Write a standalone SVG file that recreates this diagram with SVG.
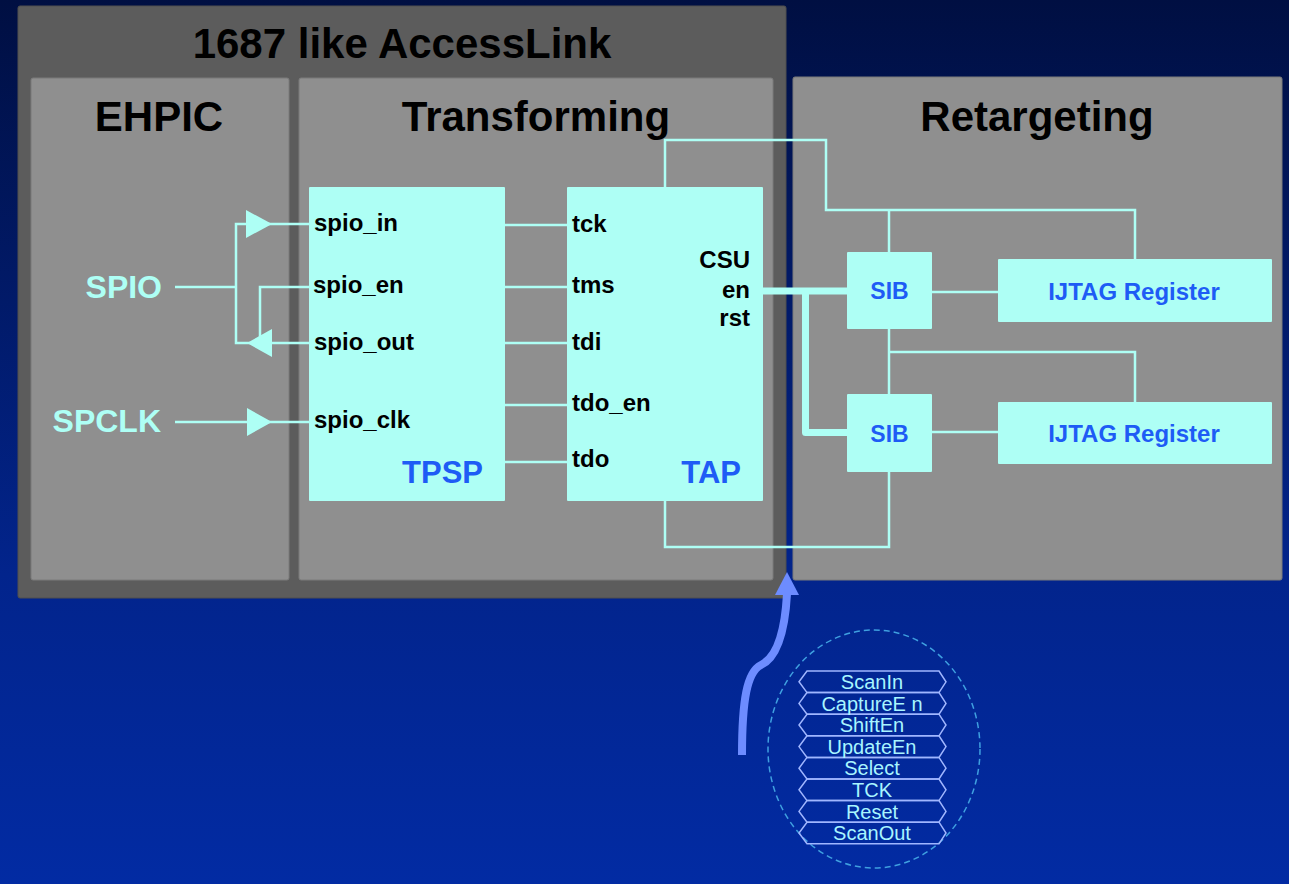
<svg xmlns="http://www.w3.org/2000/svg" width="1289" height="884" viewBox="0 0 1289 884">
<defs>
<linearGradient id="bg" x1="0" y1="0" x2="0" y2="1">
<stop offset="0" stop-color="#000f42"/>
<stop offset="0.65" stop-color="#02248c"/>
<stop offset="1" stop-color="#022ba3"/>
</linearGradient>
<style>
.panel{fill:#8f8f8f;stroke:#7a7a7a;stroke-width:1}
.box{fill:#aefff5}
.w{fill:none;stroke:#aefff5;stroke-width:2.5}
.bus{fill:none;stroke:#aefff5;stroke-width:7;stroke-linejoin:round}
.ah{fill:#aefff5}
.t{font-family:"Liberation Sans",Arial,sans-serif;font-weight:bold;fill:#000}
.h{font-size:42px;text-anchor:middle}
.p{font-size:24px}
.b{fill:#1e5cf5}
.c{fill:#aefff5}
.hex{fill:none;stroke:#a0b6ff;stroke-width:1.5}
.ht{font-family:"Liberation Sans",Arial,sans-serif;font-size:20px;fill:#a8f5ff;text-anchor:middle}
</style>
</defs>
<rect x="0" y="0" width="1289" height="884" fill="url(#bg)"/>

<g id="outer-accesslink">
<rect x="18" y="6" width="768" height="592" rx="2" fill="#5c5c5c" stroke="#4e4e4e" stroke-width="1"/>
<text class="t h" x="402" y="58">1687 like AccessLink</text>
</g>
<g id="panel-ehpic">
<rect class="panel" x="31" y="78" width="258" height="502" rx="2"/>
<text class="t h" x="159" y="131">EHPIC</text>
</g>
<g id="panel-transforming">
<rect class="panel" x="299" y="78" width="474" height="502" rx="2"/>
<text class="t h" x="536" y="131">Transforming</text>
</g>
<g id="panel-retargeting">
<rect class="panel" x="793" y="77" width="489" height="503" rx="2"/>
<text class="t h" x="1037" y="131">Retargeting</text>
</g>

<g id="connectors">
<polyline class="w" points="175,287 236,287"/>
<polyline class="w" points="309,224 236,224 236,343 309,343"/>
<polyline class="w" points="309,287 260,287 260,340"/>
<polyline class="w" points="175,422 309,422"/>
<polygon class="ah" points="246,210 272,224 246,238"/>
<polygon class="ah" points="272,329 247,343 272,357"/>
<polygon class="ah" points="247,408 272,422 247,436"/>
<line class="w" x1="505" y1="225" x2="567" y2="225"/>
<line class="w" x1="505" y1="287" x2="567" y2="287"/>
<line class="w" x1="505" y1="343" x2="567" y2="343"/>
<line class="w" x1="505" y1="405" x2="567" y2="405"/>
<line class="w" x1="505" y1="462" x2="567" y2="462"/>
<polyline class="w" points="665,187 665,140 826,140 826,210 1135,210 1135,260"/>
<line class="w" x1="889" y1="210" x2="889" y2="252"/>
<line class="w" x1="932" y1="292" x2="998" y2="292"/>
<polyline class="w" points="889,329 889,394"/>
<polyline class="w" points="889,352 1135,352 1135,402"/>
<line class="w" x1="932" y1="432" x2="998" y2="432"/>
<polyline class="w" points="889,472 889,547 665,547 665,501"/>
<polyline class="bus" points="763,291 847,291"/>
<polyline class="bus" points="805.5,291 805.5,432.5 847,432.5"/>
<path d="M742,755 C742,700 747,672 761,665 C778,657 785,630 787,594" fill="none" stroke="#6d8cff" stroke-width="8"/>
<polygon points="775,595 787,572 799,595" fill="#6d8cff"/>
</g>

<g id="label-spio">
<text class="t c" x="162" y="298" font-size="32" text-anchor="end">SPIO</text>
</g>
<g id="label-spclk">
<text class="t c" x="161" y="432" font-size="32" text-anchor="end">SPCLK</text>
</g>

<g id="node-tpsp">
<rect class="box" x="309" y="187" width="196" height="314" rx="1"/>
<text class="t p" x="314" y="231">spio_in</text>
<text class="t p" x="313" y="293">spio_en</text>
<text class="t p" x="314" y="350">spio_out</text>
<text class="t p" x="314" y="428">spio_clk</text>
<text class="t b" x="483" y="483" font-size="31" text-anchor="end">TPSP</text>
</g>

<g id="node-tap">
<rect class="box" x="567" y="187" width="196" height="314" rx="1"/>
<text class="t p" x="572" y="232">tck</text>
<text class="t p" x="572" y="293">tms</text>
<text class="t p" x="572" y="350">tdi</text>
<text class="t p" x="572" y="411">tdo_en</text>
<text class="t p" x="572" y="467">tdo</text>
<text class="t p" x="750" y="268" text-anchor="end">CSU</text>
<text class="t p" x="750" y="298" text-anchor="end">en</text>
<text class="t p" x="750" y="326" text-anchor="end">rst</text>
<text class="t b" x="741" y="483" font-size="31" text-anchor="end">TAP</text>
</g>

<g id="node-sib1">
<rect class="box" x="847" y="252" width="85" height="77" rx="1"/>
<text class="t b" x="889.5" y="299" font-size="23" text-anchor="middle">SIB</text>
</g>
<g id="node-sib2">
<rect class="box" x="847" y="394" width="85" height="78" rx="1"/>
<text class="t b" x="889.5" y="442" font-size="23" text-anchor="middle">SIB</text>
</g>
<g id="node-ijtag1">
<rect class="box" x="998" y="259" width="274" height="63" rx="1"/>
<text class="t b" x="1134" y="300" font-size="24" text-anchor="middle">IJTAG Register</text>
</g>
<g id="node-ijtag2">
<rect class="box" x="998" y="402" width="274" height="62" rx="1"/>
<text class="t b" x="1134" y="442" font-size="24" text-anchor="middle">IJTAG Register</text>
</g>

<g id="node-signals">
<ellipse cx="874" cy="749" rx="106" ry="119" fill="none" stroke="#3fa0e0" stroke-width="1.5" stroke-dasharray="6 4"/>
<polygon class="hex" points="807,671 939,671 946,681.8 939,692.6 807,692.6 799,681.8"/>
<polygon class="hex" points="807,692.6 939,692.6 946,703.4 939,714.2 807,714.2 799,703.4"/>
<polygon class="hex" points="807,714.2 939,714.2 946,725 939,735.8 807,735.8 799,725"/>
<polygon class="hex" points="807,735.8 939,735.8 946,746.6 939,757.4 807,757.4 799,746.6"/>
<polygon class="hex" points="807,757.4 939,757.4 946,768.2 939,779 807,779 799,768.2"/>
<polygon class="hex" points="807,779 939,779 946,789.8 939,800.6 807,800.6 799,789.8"/>
<polygon class="hex" points="807,800.6 939,800.6 946,811.4 939,822.2 807,822.2 799,811.4"/>
<polygon class="hex" points="807,822.2 939,822.2 946,833 939,843.8 807,843.8 799,833"/>
<text class="ht" x="872" y="689">ScanIn</text>
<text class="ht" x="872" y="710.6">CaptureE n</text>
<text class="ht" x="872" y="732.2">ShiftEn</text>
<text class="ht" x="872" y="753.8">UpdateEn</text>
<text class="ht" x="872" y="775.4">Select</text>
<text class="ht" x="872" y="797">TCK</text>
<text class="ht" x="872" y="818.6">Reset</text>
<text class="ht" x="872" y="840.2">ScanOut</text>
</g>
</svg>
